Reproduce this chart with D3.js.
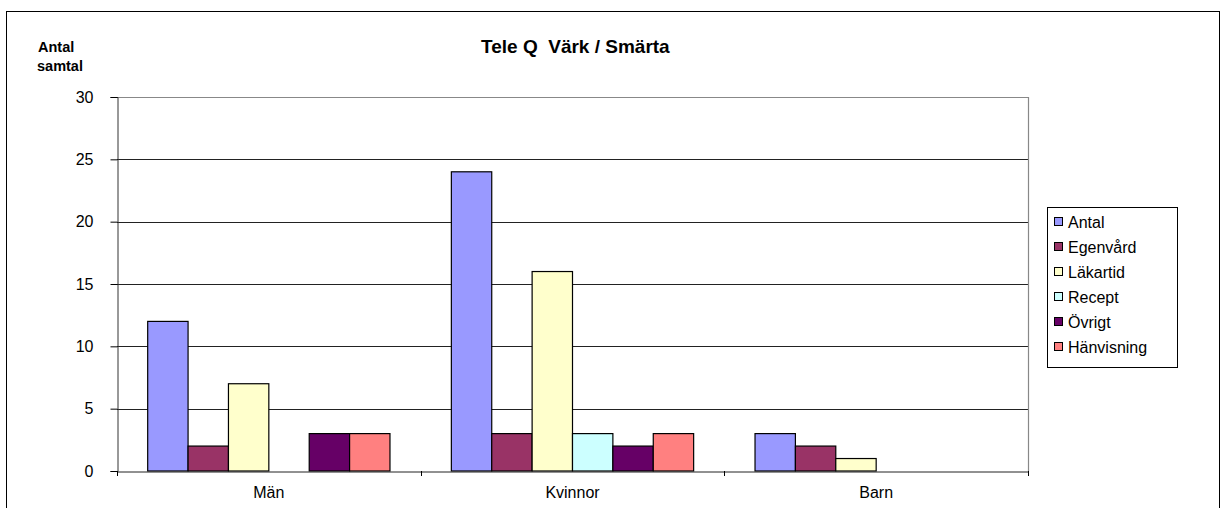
<!DOCTYPE html>
<html>
<head>
<meta charset="utf-8">
<script src="https://cdn.jsdelivr.net/npm/d3@7"></script>
<style>
  html, body { margin: 0; padding: 0; background: #fff; }
  svg { display: block; font-family: "Liberation Sans", Arial, sans-serif; }
</style>
</head>
<body>
<svg id="chart" width="1224" height="508"></svg>
<script>
// Call categories and call outcomes
const categories = ["Män", "Kvinnor", "Barn"];
const seriesNames = ["Antal", "Egenvård", "Läkartid", "Recept", "Övrigt", "Hänvisning"];
const seriesColors = ["#9999FF", "#993366", "#FFFFCC", "#CCFFFF", "#660066", "#FF8080"];

const antal      = [12, 24, 3];
const egenvard   = [2, 3, 2];
const lakartid   = [7, 16, 1];
const recept     = [0, 3, 0];
const ovrigt     = [3, 2, 0];
const hanvisning = [3, 3, 0];
const yTicks = [0, 5, 10, 15, 20, 25, 30];

const seriesValues = [antal, egenvard, lakartid, recept, ovrigt, hanvisning];

const svg = d3.select("#chart");
const FONT = "'Liberation Sans', Arial, sans-serif";

// Outer chart frame
svg.append("rect")
  .attr("x", 6.5).attr("y", 11.5)
  .attr("width", 1213).attr("height", 520)
  .attr("fill", "none").attr("stroke", "#000").attr("stroke-width", 1);

const plot = { left: 117, right: 1028, top: 97, bottom: 471 };

const x0 = d3.scaleBand()
  .domain(categories)
  .range([plot.left, plot.right])
  .paddingInner(0).paddingOuter(0);

const x1 = d3.scaleBand()
  .domain(seriesNames)
  .range([0, x0.bandwidth()])
  .paddingInner(0)
  .paddingOuter(0.76);

const y = d3.scaleLinear().domain([0, 30]).range([plot.bottom, plot.top]);

// Gridlines
svg.append("g")
  .selectAll("line")
  .data(yTicks.filter(d => d > 0 && d < 30))
  .join("line")
  .attr("x1", plot.left).attr("x2", plot.right)
  .attr("y1", d => Math.round(y(d)) + 0.5).attr("y2", d => Math.round(y(d)) + 0.5)
  .attr("stroke", "#222").attr("stroke-width", 1);

// Plot area border (top and right)
svg.append("path")
  .attr("d", `M${plot.left},${plot.top + 0.5}H${plot.right + 0.5}V${plot.bottom}`)
  .attr("fill", "none").attr("stroke", "#888").attr("stroke-width", 1.2);

// Bars
const groups = svg.append("g")
  .selectAll("g")
  .data(categories)
  .join("g")
  .attr("transform", d => `translate(${x0(d)},0)`);

groups.selectAll("rect")
  .data((c, ci) => seriesNames.map((s, si) => ({ s, si, v: seriesValues[si][ci] })))
  .join("rect")
  .filter(d => d.v > 0)
  .attr("x", d => x1(d.s))
  .attr("width", x1.bandwidth())
  .attr("y", d => y(d.v))
  .attr("height", d => y(0) - y(d.v))
  .attr("fill", d => seriesColors[d.si])
  .attr("stroke", "#000").attr("stroke-width", 1.2);

// Y axis
const yAxis = svg.append("g")
  .attr("transform", `translate(${plot.left + 0.5},0)`)
  .call(d3.axisLeft(y).tickValues(yTicks).tickSize(7).tickPadding(17).tickFormat(d3.format("d")));
yAxis.select(".domain").attr("stroke", "#333");
yAxis.selectAll(".tick line").attr("stroke", "#000");
yAxis.selectAll("text").attr("font-size", 16).attr("fill", "#000").attr("font-family", FONT);

// X axis
const xAxis = svg.append("g")
  .attr("transform", `translate(0,${plot.bottom + 0.5})`)
  .call(d3.axisBottom(x0).tickSize(0).tickPadding(15));
xAxis.select(".domain").attr("stroke", "#222");
xAxis.selectAll("text").attr("font-size", 16).attr("fill", "#000").attr("font-family", FONT);

// Category separator ticks
svg.append("g")
  .selectAll("line")
  .data([plot.left, x0("Kvinnor"), x0("Barn"), plot.right])
  .join("line")
  .attr("x1", d => Math.round(d) + 0.5).attr("x2", d => Math.round(d) + 0.5)
  .attr("y1", plot.bottom).attr("y2", plot.bottom + 5)
  .attr("stroke", "#000");

// Title and axis label
svg.append("text")
  .attr("x", 481).attr("y", 53)
  .attr("font-size", 19).attr("font-weight", "bold")
  .attr("xml:space", "preserve")
  .style("white-space", "pre")
  .text("Tele Q  Värk / Smärta");

const yl = svg.append("text")
  .attr("font-size", 14.5).attr("font-weight", "bold");
yl.append("tspan").attr("x", 38).attr("y", 52).text("Antal");
yl.append("tspan").attr("x", 37).attr("y", 71).text("samtal");

// Legend
const legend = svg.append("g");
legend.append("rect")
  .attr("x", 1047.5).attr("y", 207.5)
  .attr("width", 130).attr("height", 160)
  .attr("fill", "#fff").attr("stroke", "#000").attr("stroke-width", 1);

const items = legend.selectAll("g.item")
  .data(seriesNames)
  .join("g")
  .attr("class", "item")
  .attr("transform", (d, i) => `translate(1054,${222 + i * 25})`);

items.append("rect")
  .attr("x", 0.5).attr("y", -4.5)
  .attr("width", 8).attr("height", 8)
  .attr("fill", (d, i) => seriesColors[i])
  .attr("stroke", "#000").attr("stroke-width", 1);

items.append("text")
  .attr("x", 14).attr("y", 6)
  .attr("font-size", 16)
  .text(d => d);
</script>
</body>
</html>
